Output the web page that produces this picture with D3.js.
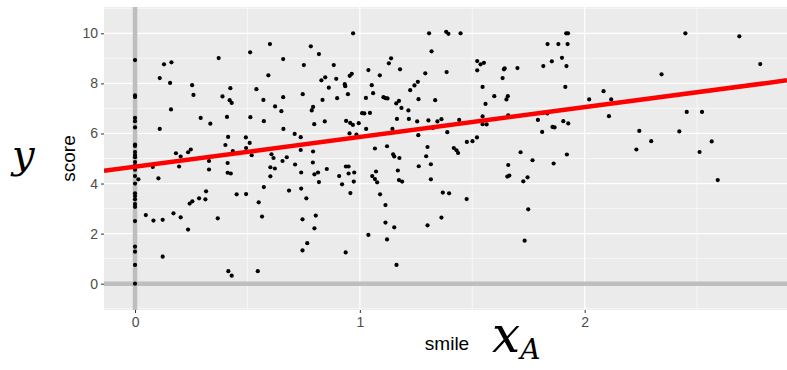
<!DOCTYPE html>
<html>
<head>
<meta charset="utf-8">
<script src="https://cdn.jsdelivr.net/npm/d3@7"></script>
<style>
  body { margin: 0; background: #fff; }
  svg { display: block; }
</style>
</head>
<body>
<svg id="chart" width="787" height="370"></svg>
<script>
// ── Data ───────────────────────────────────────────────────────────────────

const xMajor = [0, 1, 2];
const xMinor = [0.5, 1.5, 2.5];
const yMajor = [0, 2, 4, 6, 8, 10];
const yMinor = [-1, 1, 3, 5, 7, 9, 11];

// fitted line
const fitIntercept = 4.67;
const fitSlope = 1.19;

// [smile, score]
const observations = [
  [0,8.93],[0,7.52],[0,7.46],[0,6.62],[0,6.49],[0,6.24],[0,5.56],[0,5.5],[0,5.26],[0,5.14],
  [0,5.05],[0,4.86],[0,4.73],[0,4.55],[0,4.3],[0,4.0],[0,3.61],[0,3.5],[0,3.37],[0,3.18],
  [0,3.07],[0,2.5],[0,1.48],[0,1.28],[0,0.75],[0,0],[0.015,4.17],
  [0.048,2.74],[0.079,4.66],[0.082,2.52],[0.104,4.21],[0.11,8.21],[0.11,6.18],[0.123,2.55],[0.123,1.08],
  [0.129,8.76],[0.156,8.02],[0.16,6.96],[0.162,8.84],[0.171,2.81],[0.182,5.21],[0.196,4.68],[0.203,5.08],
  [0.203,2.65],[0.236,5.25],[0.236,2.16],[0.243,3.2],[0.248,5.36],[0.254,7.93],[0.255,3.29],[0.26,7.54],
  [0.285,3.41],[0.292,6.62],[0.313,3.37],[0.316,3.69],[0.329,4.9],[0.329,4.56],[0.335,6.39],[0.368,2.61],
  [0.372,9.01],[0.389,7.48],[0.402,5.54],[0.409,6.66],[0.412,4.82],[0.412,4.43],[0.414,5.86],[0.415,0.5],
  [0.421,7.33],[0.424,7.81],[0.426,4.4],[0.43,7.22],[0.43,0.32],[0.435,5.3],[0.452,3.57],[0.493,5.84],
  [0.494,5.42],[0.494,3.58],[0.51,5.62],[0.512,9.24],[0.513,6.65],[0.519,5.13],[0.54,7.77],[0.546,0.5],
  [0.55,3.25],[0.565,2.68],[0.571,7.34],[0.573,6.49],[0.573,3.86],
  [0.593,8.32],[0.6,9.57],[0.602,4.65],[0.602,4.29],[0.607,5.17],[0.616,5.02],[0.622,4.6],[0.623,7.08],
  [0.651,6.89],[0.656,4.9],[0.659,8.97],[0.659,7.45],[0.66,6.18],[0.675,5.05],[0.685,3.72],[0.71,5.98],
  [0.712,4.76],[0.737,5.85],[0.737,5.34],[0.739,4.44],[0.739,3.8],[0.745,2.57],[0.745,1.33],[0.746,7.57],
  [0.751,8.73],[0.762,3.41],[0.766,1.62],[0.782,9.48],[0.786,6.92],[0.791,4.84],[0.792,7.06],[0.792,5.28],
  [0.797,6.37],[0.798,4.37],[0.798,2.21],[0.804,2.72],[0.814,4.44],[0.818,9.17],[0.818,4.06],[0.829,8.12],
  [0.834,7.34],[0.844,6.48],[0.846,8.24],[0.853,4.58],[0.862,7.83],[0.884,8.73],[0.895,8.18],[0.899,7.41],
  [0.908,4.3],[0.921,3.97],[0.933,7.97],[0.935,7.89],[0.937,1.25],[0.938,4.68],[0.939,6.5],[0.947,7.57],
  [0.95,4.68],[0.95,4.4],[0.954,6.0],[0.955,8.3],[0.957,6.42],[0.958,3.62],[0.964,8.38],[0.969,6.34],
  [0.97,10.0],[0.973,4.08],[0.975,4.44],[0.985,5.95],[0.995,6.41],[1.01,6.81],[1.02,6.8],[1.027,7.42],
  [1.028,6.18],[1.038,8.53],[1.038,1.95],[1.045,6.82],[1.053,7.93],[1.055,4.3],[1.059,7.61],[1.067,5.4],
  [1.067,4.18],[1.072,4.48],[1.077,4.05],[1.089,8.32],[1.09,3.57],[1.105,7.45],[1.114,7.41],[1.114,3.14],
  [1.114,2.44],[1.121,5.49],[1.121,1.77],[1.123,7.4],[1.129,8.8],[1.139,9.0],[1.145,6.18],[1.148,5.17],
  [1.153,5.08],[1.153,2.25],[1.162,7.2],[1.163,0.75],[1.165,6.58],[1.169,4.52],[1.174,7.3],[1.174,4.14],
  [1.176,5.02],[1.179,8.56],[1.185,7.02],[1.188,4.08],[1.216,6.92],[1.218,6.58],[1.224,7.73],[1.243,7.92],
  [1.255,6.48],[1.258,8.06],[1.26,5.93],[1.261,7.37],[1.262,4.69],
  [1.291,8.4],[1.295,5.09],[1.301,5.46],[1.301,2.33],[1.305,6.52],[1.308,10.0],[1.316,4.77],[1.316,4.17],
  [1.319,9.28],[1.325,6.22],[1.335,7.33],[1.345,6.48],[1.363,6.57],[1.363,2.64],[1.369,3.64],[1.384,10.06],
  [1.386,8.45],[1.389,6.05],[1.394,9.98],[1.397,3.61],[1.418,5.42],[1.43,5.33],[1.437,5.22],[1.442,6.54],
  [1.448,10.0],[1.475,3.38],[1.476,5.66],[1.501,5.69],[1.521,5.84],[1.522,8.89],[1.522,8.52],[1.537,8.76],
  [1.546,7.86],[1.546,6.68],[1.546,6.37],[1.552,8.82],[1.559,7.18],[1.564,6.36],[1.598,7.49],[1.635,8.21],
  [1.641,8.56],[1.644,8.6],[1.652,7.36],[1.656,4.28],[1.658,7.49],[1.66,6.72],[1.66,4.74],[1.665,4.32],
  [1.701,8.61],[1.715,5.25],[1.727,4.09],[1.733,1.72],[1.746,4.25],[1.749,2.97],[1.768,4.93],[1.792,6.54],
  [1.811,6.06],[1.814,6.82],[1.816,8.69],[1.834,6.8],[1.835,9.57],[1.854,8.88],[1.857,6.26],[1.862,4.8],
  [1.866,6.24],[1.883,9.57],[1.899,9.02],[1.905,6.49],[1.914,7.86],[1.918,10.0],[1.919,8.69],[1.921,5.16],
  [1.924,9.57],[1.926,10.0],[1.927,6.4],
  [2.02,7.36],[2.084,7.69],[2.108,6.69],[2.118,7.36],[2.23,5.36],[2.243,6.1],[2.296,5.69],[2.342,8.36],
  [2.421,6.08],[2.448,10.0],[2.454,6.86],[2.511,5.26],[2.522,6.86],[2.565,5.68],[2.592,4.14],[2.688,9.88],
  [2.781,8.77]
];

// ── Layout ─────────────────────────────────────────────────────────────────

const panel = { left: 104, right: 787, top: 7, bottom: 310 };

const x = d3.scaleLinear().domain([-0.138, 2.90]).range([panel.left, panel.right]);
const y = d3.scaleLinear().domain([-1.05, 11.05]).range([panel.bottom, panel.top]);

const svg = d3.select("#chart");

svg.append("defs").append("clipPath").attr("id", "panel-clip")
  .append("rect")
  .attr("x", panel.left).attr("y", panel.top)
  .attr("width", panel.right - panel.left).attr("height", panel.bottom - panel.top);

svg.append("rect")
  .attr("x", panel.left).attr("y", panel.top)
  .attr("width", panel.right - panel.left).attr("height", panel.bottom - panel.top)
  .attr("fill", "#ebebeb");

const g = svg.append("g").attr("clip-path", "url(#panel-clip)");

// grid
g.selectAll("line.ymin").data(yMinor).enter().append("line")
  .attr("x1", panel.left).attr("x2", panel.right)
  .attr("y1", d => y(d)).attr("y2", d => y(d))
  .attr("stroke", "#fff").attr("stroke-width", 0.6);
g.selectAll("line.xmin").data(xMinor).enter().append("line")
  .attr("y1", panel.top).attr("y2", panel.bottom)
  .attr("x1", d => x(d)).attr("x2", d => x(d))
  .attr("stroke", "#fff").attr("stroke-width", 0.6);
g.selectAll("line.ymaj").data(yMajor).enter().append("line")
  .attr("x1", panel.left).attr("x2", panel.right)
  .attr("y1", d => y(d)).attr("y2", d => y(d))
  .attr("stroke", "#fff").attr("stroke-width", 1.2);
g.selectAll("line.xmaj").data(xMajor).enter().append("line")
  .attr("y1", panel.top).attr("y2", panel.bottom)
  .attr("x1", d => x(d)).attr("x2", d => x(d))
  .attr("stroke", "#fff").attr("stroke-width", 1.2);

// reference lines at 0
g.append("line")
  .attr("x1", x(0)).attr("x2", x(0)).attr("y1", panel.top).attr("y2", panel.bottom)
  .attr("stroke", "#bebebe").attr("stroke-width", 4.5);
g.append("line")
  .attr("x1", panel.left).attr("x2", panel.right).attr("y1", y(0)).attr("y2", y(0))
  .attr("stroke", "#bebebe").attr("stroke-width", 4.5);

// points
g.selectAll("circle").data(observations).enter().append("circle")
  .attr("cx", d => x(d[0])).attr("cy", d => y(d[1]))
  .attr("r", 2.1).attr("fill", "#000");

// fitted line
const [x0, x1] = x.domain();
g.append("line")
  .attr("x1", x(x0)).attr("y1", y(fitIntercept + fitSlope * x0))
  .attr("x2", x(x1)).attr("y2", y(fitIntercept + fitSlope * x1))
  .attr("stroke", "#ff0000").attr("stroke-width", 4.5);

// ── Axes ───────────────────────────────────────────────────────────────────

const styleAxis = sel => {
  sel.select(".domain").remove();
  sel.selectAll(".tick line").attr("stroke", "#333").attr("stroke-width", 1);
  sel.selectAll(".tick text")
    .attr("fill", "#4d4d4d")
    .style("font-family", "'Liberation Sans', Arial, sans-serif")
    .style("font-size", "14px");
};

svg.append("g")
  .attr("transform", `translate(${panel.left},0)`)
  .call(d3.axisLeft(y).tickValues(yMajor).tickFormat(d3.format("d")).tickSize(3).tickPadding(3))
  .call(styleAxis);

svg.append("g")
  .attr("transform", `translate(0,${panel.bottom})`)
  .call(d3.axisBottom(x).tickValues(xMajor).tickFormat(d3.format("d")).tickSize(3).tickPadding(4))
  .call(styleAxis);

// titles
svg.append("text")
  .attr("transform", `translate(75,${(panel.top + panel.bottom) / 2}) rotate(-90)`)
  .attr("text-anchor", "middle")
  .style("font-family", "'Liberation Sans', Arial, sans-serif")
  .style("font-size", "19px")
  .text("score");

svg.append("text")
  .attr("x", 447).attr("y", 350)
  .attr("text-anchor", "middle")
  .style("font-family", "'Liberation Sans', Arial, sans-serif")
  .style("font-size", "19px")
  .text("smile");

// math symbols
svg.append("text")
  .attr("x", 12).attr("y", 168)
  .style("font-family", "'DejaVu Serif', serif")
  .style("font-style", "italic")
  .style("font-size", "40px")
  .text("y");

const xa = svg.append("text")
  .attr("x", 492).attr("y", 352)
  .style("font-family", "'DejaVu Serif', serif")
  .style("font-style", "italic")
  .style("font-size", "50px");
xa.append("tspan").text("x");
xa.append("tspan").attr("dy", 7).style("font-size", "28px").text("A");
</script>
</body>
</html>
